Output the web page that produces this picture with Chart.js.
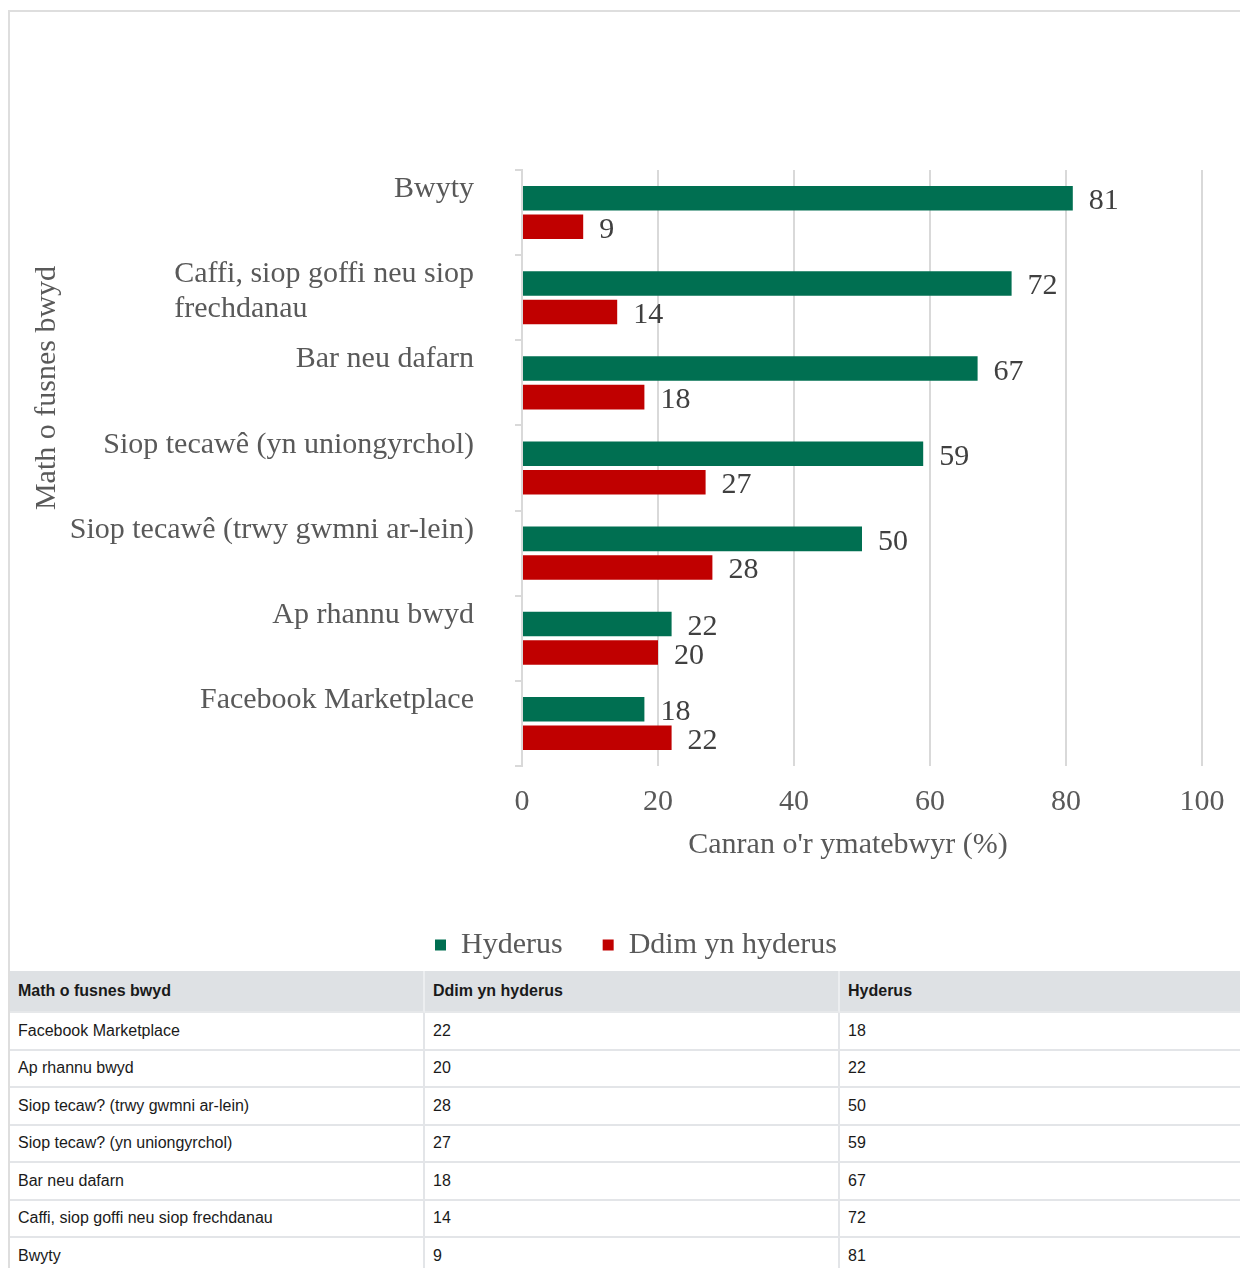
<!DOCTYPE html>
<html lang="cy">
<head>
<meta charset="utf-8">
<title>Math o fusnes bwyd</title>
<script src="https://cdn.jsdelivr.net/npm/chart.js@4.4.1/dist/chart.umd.min.js"></script>
<style>
  html, body { margin: 0; padding: 0; overflow: hidden; background: #fff; }
  .box {
    position: absolute; left: 8px; top: 10px;
    width: 1252px;
    border: 2px solid #dedede;
    font-family: 'Liberation Sans', Arial, sans-serif;
  }
  canvas { display: block; }
  table {
    width: 1245px; table-layout: fixed;
    border-collapse: separate; border-spacing: 0;
    font-size: 16px; color: #1a1a1a;
  }
  th, td { text-align: left; vertical-align: middle; padding: 0 8px; }
  th {
    height: 40px; background: #dee1e4; font-weight: bold;
    border-bottom: 2px solid #e6e8ea; border-right: 2px solid #eceef0;
  }
  td {
    height: 35.5px;
    border-bottom: 2px solid #e3e5e8; border-right: 2px solid #e3e5e8;
  }
</style>
</head>
<body>
<div class="box">
  <canvas id="chart" width="1252" height="959"></canvas>
  <table>
    <thead>
      <tr><th>Math o fusnes bwyd</th><th>Ddim yn hyderus</th><th>Hyderus</th></tr>
    </thead>
    <tbody id="table-body"></tbody>
  </table>
</div>
<script>
// Data (top to bottom as in the chart)
const categories = [
  'Bwyty',
  ['Caffi, siop goffi neu siop', 'frechdanau'],
  'Bar neu dafarn',
  'Siop tecawê (yn uniongyrchol)',
  'Siop tecawê (trwy gwmni ar-lein)',
  'Ap rhannu bwyd',
  'Facebook Marketplace'
];
const tableCategories = [
  'Bwyty',
  'Caffi, siop goffi neu siop frechdanau',
  'Bar neu dafarn',
  'Siop tecaw? (yn uniongyrchol)',
  'Siop tecaw? (trwy gwmni ar-lein)',
  'Ap rhannu bwyd',
  'Facebook Marketplace'
];
const hyderus = [81, 72, 67, 59, 50, 22, 18];
const ddimHyderus = [9, 14, 18, 27, 28, 20, 22];
const xTicks = [0, 20, 40, 60, 80, 100];

const SERIF = "'Liberation Serif', 'Times New Roman', serif";
const GREY_TEXT = '#595959';
const GRID = '#d9d9d9';

// Category labels, value labels and both axis titles (Excel-like placement)
const labelPlugin = {
  id: 'labelPlugin',
  afterDatasetsDraw(chart) {
    const ctx = chart.ctx;
    const yScale = chart.scales.y;
    const xScale = chart.scales.x;
    ctx.save();
    ctx.font = '30px ' + SERIF;
    ctx.textAlign = 'left';
    ctx.textBaseline = 'alphabetic';

    ctx.fillStyle = GREY_TEXT;
    categories.forEach((cat, i) => {
      const lines = Array.isArray(cat) ? cat : [cat];
      const w = Math.max(...lines.map(l => ctx.measureText(l).width));
      const left = yScale.right - 48 - w;
      const base = yScale.getPixelForValue(i) - 15.5;
      lines.forEach((l, k) => ctx.fillText(l, left, base + k * 35));
    });

    ctx.fillStyle = '#404040';
    chart.data.datasets.forEach((ds, di) => {
      chart.getDatasetMeta(di).data.forEach((bar, i) => {
        ctx.fillText(String(ds.data[i]), bar.x + 16, bar.y + 11);
      });
    });

    // x title, a little left of the plot centre as in the source
    ctx.fillStyle = GREY_TEXT;
    ctx.textAlign = 'center';
    ctx.textBaseline = 'middle';
    ctx.fillText("Canran o'r ymatebwyr (%)", (xScale.left + xScale.right) / 2 - 14, xScale.top + 79);

    ctx.translate(37, 376);
    ctx.rotate(-Math.PI / 2);
    ctx.fillText('Math o fusnes bwyd', 0, 0);
    ctx.restore();
  }
};

const ctx = document.getElementById('chart').getContext('2d');
new Chart(ctx, {
  type: 'bar',
  data: {
    labels: categories,
    datasets: [
      { label: 'Hyderus', data: hyderus, backgroundColor: '#006f51' },
      { label: 'Ddim yn hyderus', data: ddimHyderus, backgroundColor: '#c00000' }
    ]
  },
  options: {
    indexAxis: 'y',
    responsive: false,
    animation: false,
    categoryPercentage: 0.67,
    barPercentage: 0.86,
    layout: { padding: { top: 158, right: 0, bottom: 1, left: 0 } },
    font: { family: SERIF },
    scales: {
      x: {
        min: 0,
        max: 100,
        afterBuildTicks: (scale) => { scale.ticks = xTicks.map(v => ({ value: v })); },
        afterFit: (scale) => { scale.height = 124; },
        border: { display: false },
        grid: { color: GRID, lineWidth: 2, drawTicks: false },
        ticks: {
          padding: 18,
          color: GREY_TEXT,
          font: { family: SERIF, size: 30, lineHeight: 1.2 }
        }
      },
      y: {
        offset: true,
        afterFit: (scale) => { scale.width = 512; },
        border: { display: true, color: GRID, width: 2 },
        grid: { offset: true, drawOnChartArea: false, drawTicks: true, tickLength: 7, color: GRID, lineWidth: 2 },
        ticks: { display: false }
      },
      // empty right-hand axis: only keeps the space right of the plot
      spacer: {
        type: 'linear',
        position: 'right',
        afterFit: (scale) => { scale.width = 60; },
        border: { display: false },
        grid: { display: false },
        ticks: { display: false }
      }
    },
    plugins: {
      legend: {
        position: 'bottom',
        labels: {
          boxWidth: 11,
          boxHeight: 11,
          padding: 40,
          color: GREY_TEXT,
          font: { family: SERIF, size: 30 }
        }
      },
      tooltip: { enabled: false }
    }
  },
  plugins: [labelPlugin]
});

// Table under the chart (same order as the source: bottom bar first)
const tbody = document.getElementById('table-body');
for (let i = tableCategories.length - 1; i >= 0; i--) {
  const row = document.createElement('tr');
  row.innerHTML = `
    <td>${tableCategories[i]}</td>
    <td>${ddimHyderus[i]}</td>
    <td>${hyderus[i]}</td>
  `;
  tbody.appendChild(row);
}
</script>
</body>
</html>
